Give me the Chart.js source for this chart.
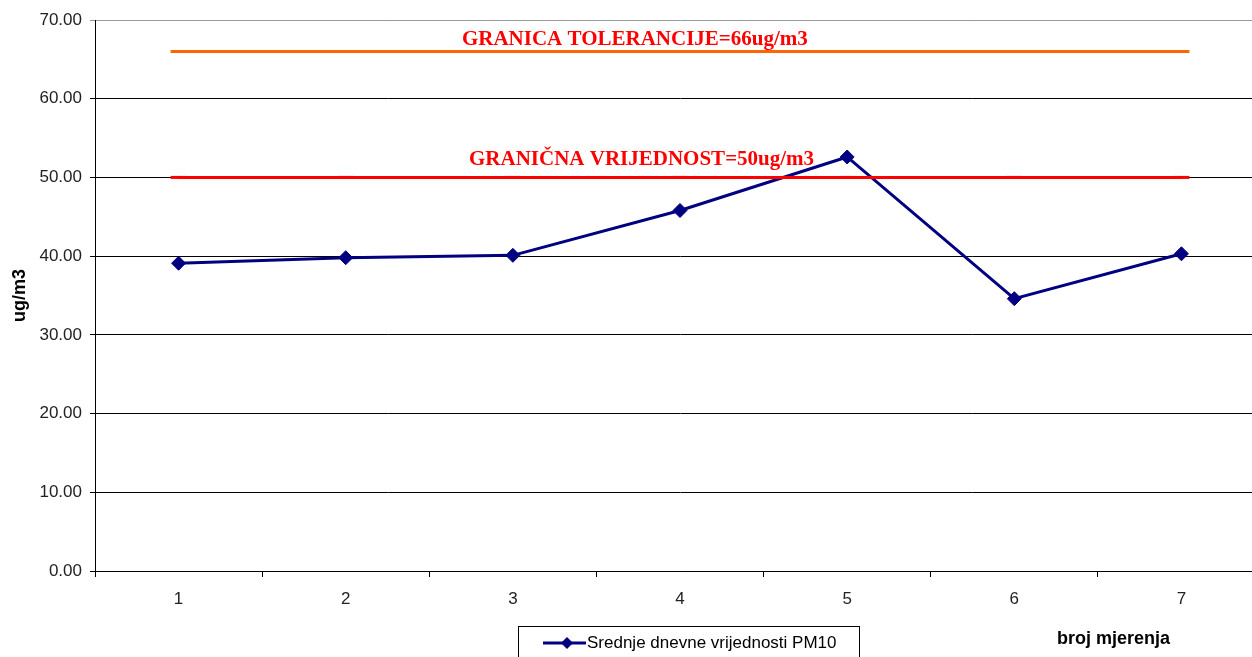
<!DOCTYPE html>
<html lang="hr">
<head>
  <meta charset="UTF-8" />
  <title>PM10 - srednje dnevne vrijednosti</title>
  <script src="https://cdn.jsdelivr.net/npm/chart.js"></script>
  <style>
    html, body { margin: 0; padding: 0; background: #fff; overflow: hidden; }
    .wrap { width: 1252px; height: 657px; overflow: hidden; position: relative; }
    .wrap canvas { position: absolute; left: 0; top: 0; }
  </style>
</head>
<body>
  <!-- canvas is wider than the window: the plot area runs past the right edge, as in the original -->
  <div class="wrap"><canvas id="chart" width="1276" height="657"></canvas></div>
  <script>
    // data
    const categories = ['1', '2', '3', '4', '5', '6', '7'];
    const pm10 = [39.1, 39.8, 40.1, 45.8, 52.6, 34.6, 40.3];
    const toleranceLimit = [66, 66, 66, 66, 66, 66, 66];
    const limitValue = [50, 50, 50, 50, 50, 50, 50];
    const seriesName = 'Srednje dnevne vrijednosti PM10';
    const labelTolerance = 'GRANICA TOLERANCIJE=66ug/m3';
    const labelLimit = 'GRANIČNA VRIJEDNOST=50ug/m3';
    const yMin = 0, yMax = 70, yStep = 10;

    const NAVY = '#000080';

    // labels on the limit lines, x axis title at right, boxed legend at bottom
    const extras = {
      id: 'extras',
      afterDraw(chart) {
        const { ctx, scales: { x, y } } = chart;
        ctx.save();
        ctx.fillStyle = '#ff0000';
        ctx.font = 'bold 21px "Liberation Serif", "Times New Roman", serif';
        ctx.textAlign = 'center';
        ctx.textBaseline = 'middle';
        ctx.fillText(labelTolerance, x.getPixelForValue(2.73), y.getPixelForValue(67.5));
        ctx.fillText(labelLimit, x.getPixelForValue(2.77), y.getPixelForValue(52.3));

        // axis title
        ctx.fillStyle = '#000';
        ctx.font = 'bold 18px "Liberation Sans", Arial, sans-serif';
        ctx.textAlign = 'left';
        ctx.fillText('broj mjerenja', 1057, 639);

        // legend
        ctx.strokeStyle = '#000';
        ctx.lineWidth = 1;
        ctx.strokeRect(518.5, 626.5, 341, 40);
        ctx.strokeStyle = NAVY;
        ctx.lineWidth = 3;
        ctx.beginPath();
        ctx.moveTo(543, 643);
        ctx.lineTo(586, 643);
        ctx.stroke();
        ctx.fillStyle = NAVY;
        ctx.beginPath();
        ctx.moveTo(567, 637); ctx.lineTo(573, 643); ctx.lineTo(567, 649); ctx.lineTo(561, 643);
        ctx.closePath();
        ctx.fill();
        ctx.fillStyle = '#000';
        ctx.font = '17px "Liberation Sans Narrow", "Arial Narrow", Arial, sans-serif';
        ctx.fillText(seriesName, 587, 643);
        ctx.restore();
      }
    };

    new Chart(document.getElementById('chart'), {
      type: 'line',
      data: {
        labels: categories,
        datasets: [
          {
            label: 'Granica tolerancije',
            data: toleranceLimit,
            borderColor: '#ff6600',
            backgroundColor: '#ff6600',
            borderWidth: 3,
            pointStyle: 'line',
            pointRadius: 8,
            pointBorderWidth: 3,
            tension: 0
          },
          {
            label: 'Granična vrijednost',
            data: limitValue,
            borderColor: '#ff0000',
            backgroundColor: '#ff0000',
            borderWidth: 3,
            pointStyle: 'line',
            pointRadius: 8,
            pointBorderWidth: 3,
            tension: 0
          },
          {
            label: seriesName,
            data: pm10,
            borderColor: NAVY,
            backgroundColor: NAVY,
            borderWidth: 3,
            pointStyle: 'rectRot',
            pointRadius: 7,
            pointBorderWidth: 1,
            tension: 0
          }
        ]
      },
      options: {
        responsive: false,
        animation: false,
        layout: { padding: { top: 20, left: 0, right: 0, bottom: 0 } },
        plugins: { legend: { display: false }, tooltip: { enabled: false } },
        scales: {
          x: {
            offset: true,
            grid: { offset: true, drawOnChartArea: false, drawTicks: true, tickLength: 6, color: '#000' },
            border: { color: '#000', width: 1 },
            ticks: { color: '#222', padding: 12, font: { family: '"Liberation Sans", Arial, sans-serif', size: 17 } },
            afterFit(scale) { scale.height = 86; scale.paddingLeft = 0; scale.paddingRight = 0; }
          },
          y: {
            min: yMin,
            max: yMax,
            ticks: {
              stepSize: yStep,
              color: '#222',
              padding: 8,
              font: { family: '"Liberation Sans", Arial, sans-serif', size: 17 },
              callback: v => Number(v).toFixed(2)
            },
            grid: {
              color: c => (c.tick && c.tick.value === yMax) ? '#999' : '#000',
              tickLength: 5,
              lineWidth: 1
            },
            border: { color: '#000', width: 1 },
            title: {
              display: true,
              text: 'ug/m3',
              color: '#000',
              padding: { top: 9, bottom: 0 },
              font: { family: '"Liberation Sans", Arial, sans-serif', size: 18, weight: 'bold' }
            },
            afterFit(scale) { scale.width = 95; scale.paddingTop = 0; scale.paddingBottom = 0; }
          }
        }
      },
      plugins: [extras]
    });
  </script>
</body>
</html>
